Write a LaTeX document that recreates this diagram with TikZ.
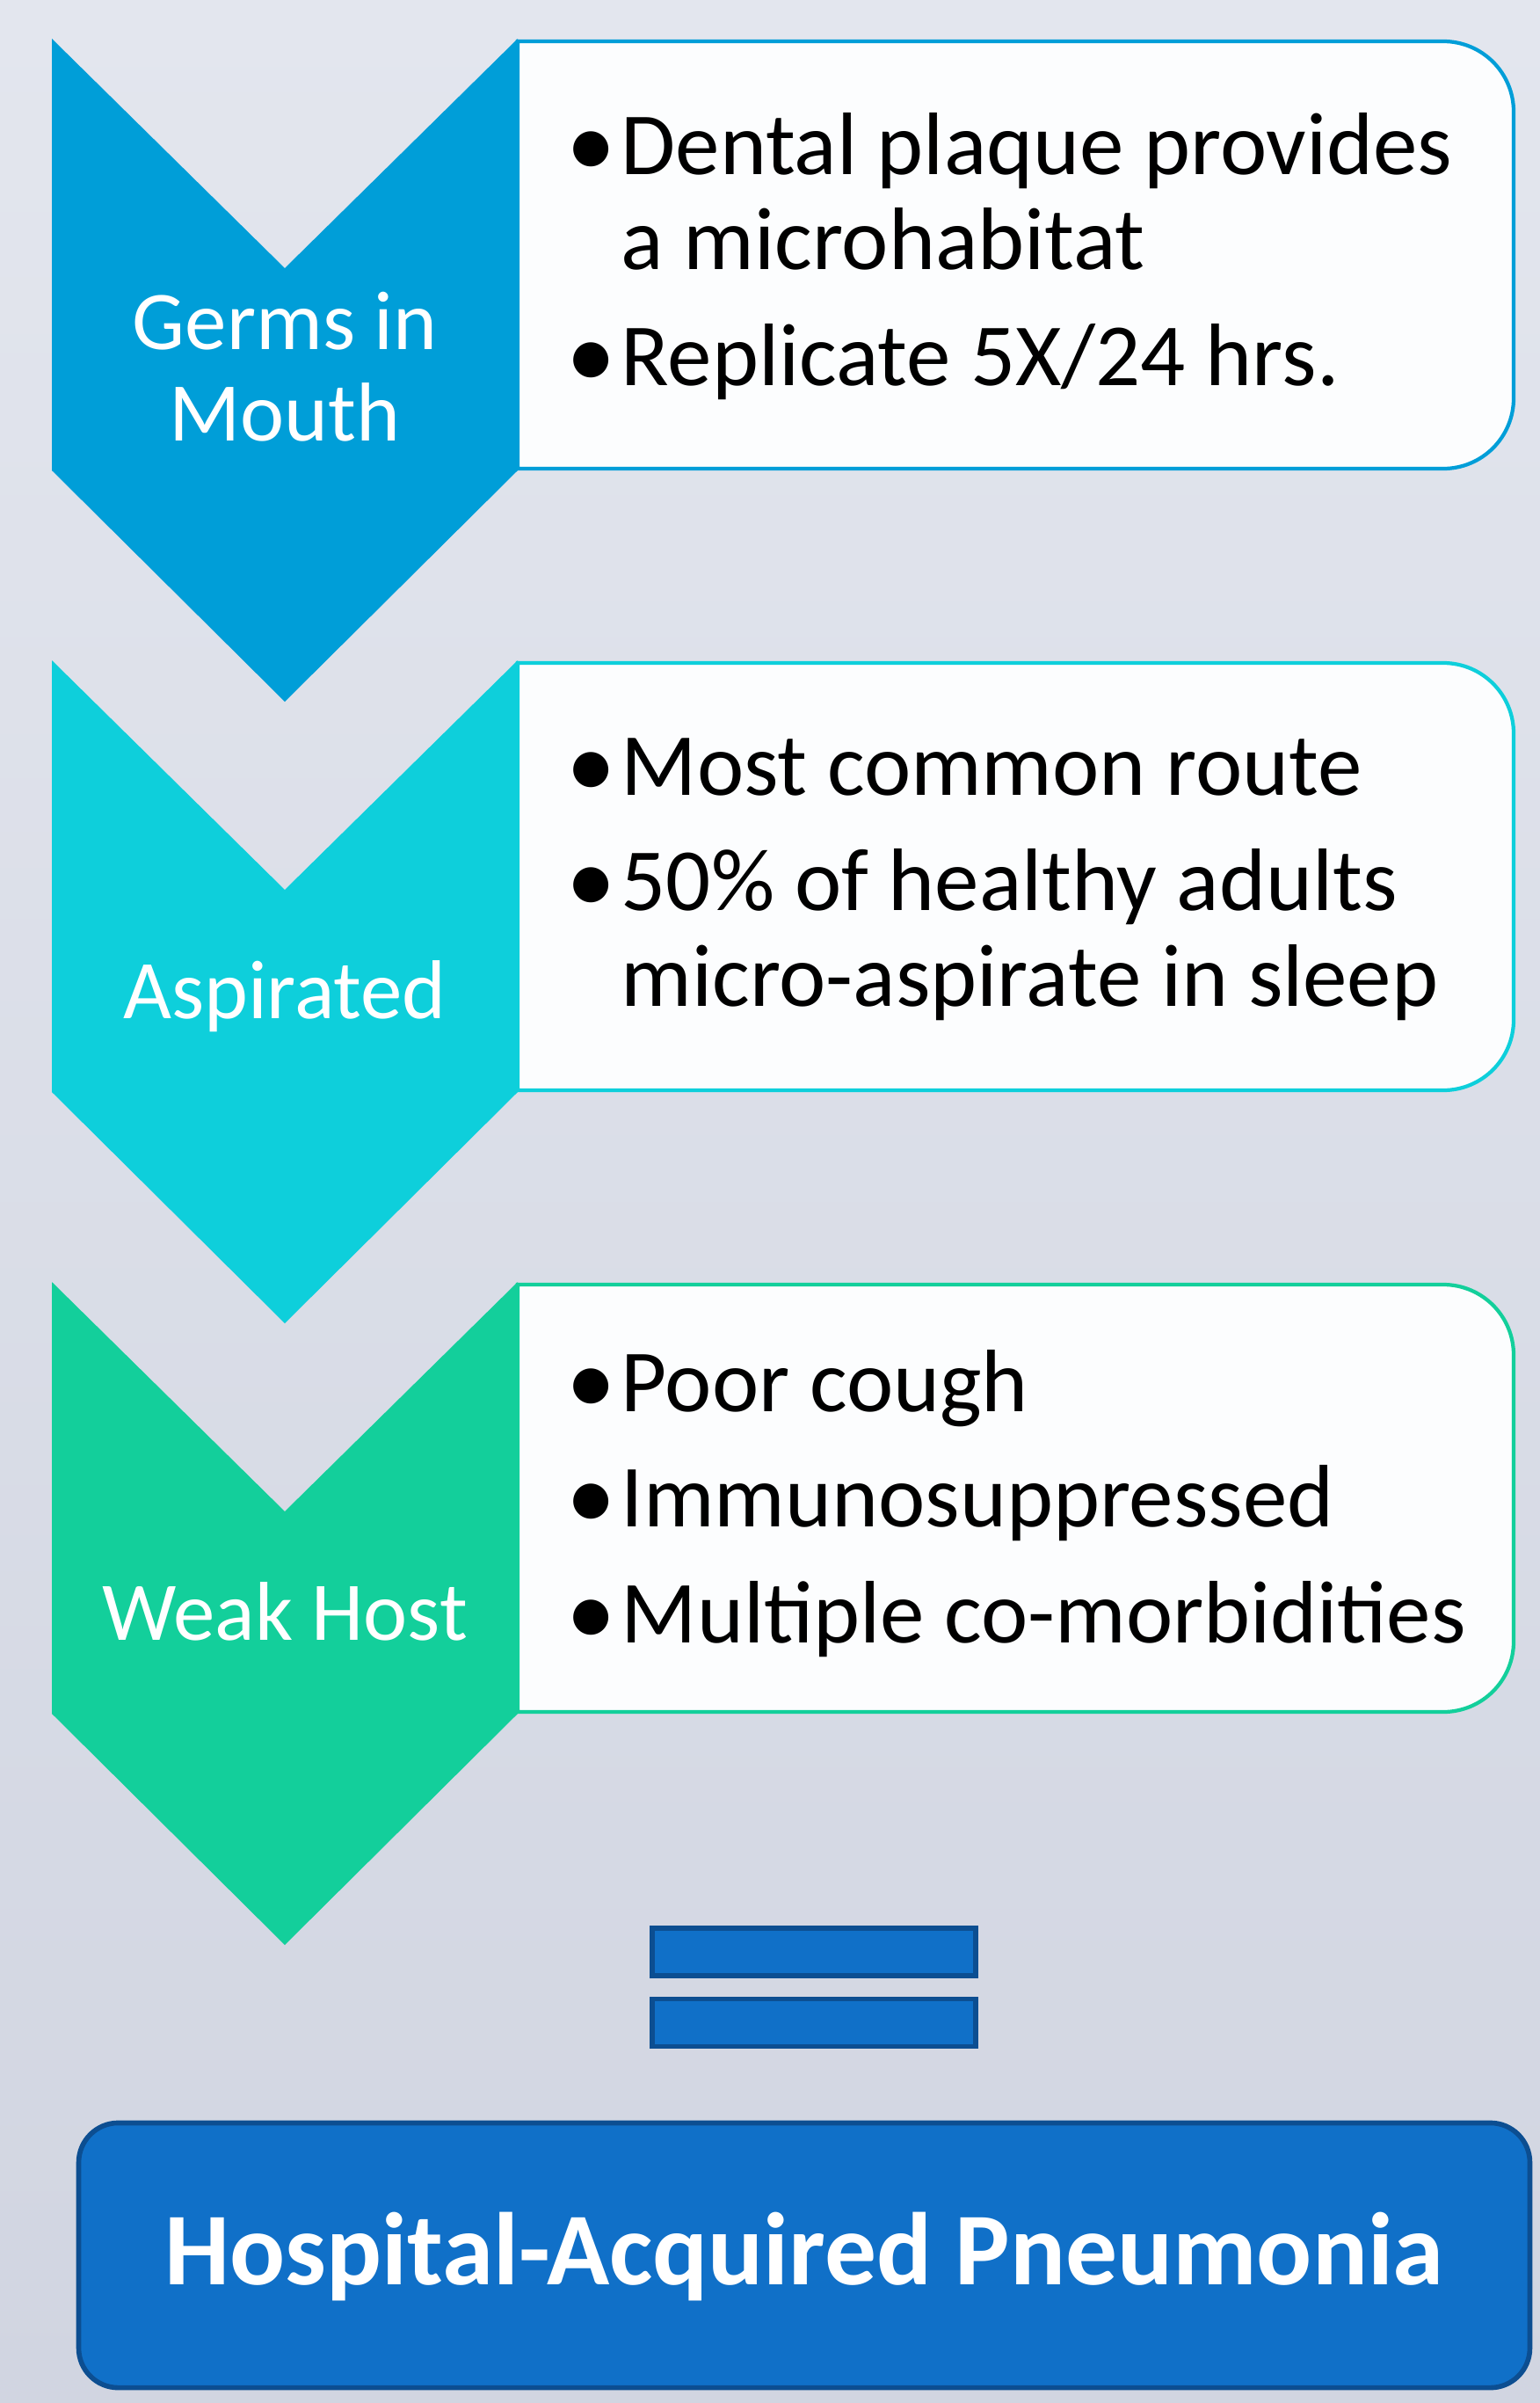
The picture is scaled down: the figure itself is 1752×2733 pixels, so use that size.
\documentclass[tikz,border=0pt]{standalone}
\usepackage{fontspec}
\setmainfont{Carlito}
\usepackage{array}
\usetikzlibrary{positioning}
\definecolor{bgtop}{RGB}{227,230,238}
\definecolor{bgbot}{RGB}{209,213,225}
\definecolor{germc}{RGB}{0,158,216}
\definecolor{aspc}{RGB}{14,207,219}
\definecolor{hostc}{RGB}{19,207,155}
\definecolor{cardw}{RGB}{252,253,254}
\definecolor{hapblue}{RGB}{16,112,200}
\definecolor{hapline}{RGB}{12,78,145}
\newcolumntype{B}{>{\raggedright\arraybackslash}p{9.75cm}}
\newcommand\bullist[1]{\begin{tabular}[t]{@{}p{6.2mm}@{}B@{}}#1\end{tabular}}
\newcommand\blt{\raisebox{-0.03em}{\scalebox{1.12}{\textbullet}}}
\newcommand\gap{\\\noalign{\vskip0.23cm}}
\tikzset{chev/.style={fill=#1,draw=none},tag/.style={text=white,font=\fontsize{27}{29.3}\selectfont,align=center,inner sep=0pt,anchor=base},card/.style={draw=#1,line width=1.2pt,fill=cardw},pts/.style={anchor=base west,inner sep=0pt,font=\fontsize{28.7}{30.9}\selectfont},bar/.style={draw=hapline,line width=1.5pt,fill=hapblue,minimum width=3.68cm,minimum height=0.54cm,inner sep=0pt},result/.style={draw=hapline,line width=1.6pt,fill=hapblue,rounded corners=4.5mm,minimum width=16.5cm,minimum height=3.01cm,text height=0.9cm,text depth=0.23cm,text=white,font=\fontsize{33.4}{38}\selectfont\bfseries}}
\begin{document}
\begin{tikzpicture}[x=0.01cm,y=-0.01cm]
\useasboundingbox (0,0) rectangle (1752,2733);
\shade[top color=bgtop,bottom color=bgbot] (0,0) rectangle (1752,2733);
% stage 1
\draw[card=germc] (1000,47) [rounded corners=8mm] -- (1722,47) -- (1722,533) -- (1000,533) [sharp corners] -- (589,533) -- (589,47) -- cycle;
\fill[chev=germc] (59,44) -- (324,305) -- (589,44) -- (589,535) -- (324,798) -- (59,535) -- cycle;
\node[tag] (germs) at (324,501) {Germs in\\Mouth};
\node[pts] (germpts) at (644,198) {\bullist{\blt & Dental plaque provides a microhabitat\gap \blt & Replicate 5X/24 hrs.}};
% stage 2
\draw[card=aspc] (1000,754) [rounded corners=8mm] -- (1722,754) -- (1722,1240) -- (1000,1240) [sharp corners] -- (589,1240) -- (589,754) -- cycle;
\fill[chev=aspc] (59,751) -- (324,1012) -- (589,751) -- (589,1242) -- (324,1505) -- (59,1242) -- cycle;
\node[tag] (asp) at (324,1158) {Aspirated};
\node[pts] (asppts) at (644,904) {\bullist{\blt & Most common route\gap \blt & 50\% of healthy adults micro-aspirate in sleep}};
% stage 3
\draw[card=hostc] (1000,1461) [rounded corners=8mm] -- (1722,1461) -- (1722,1947) -- (1000,1947) [sharp corners] -- (589,1947) -- (589,1461) -- cycle;
\fill[chev=hostc] (59,1458) -- (324,1719) -- (589,1458) -- (589,1949) -- (324,2212) -- (59,1949) -- cycle;
\node[tag] (host) at (324,1865) {Weak Host};
\node[pts] (hostpts) at (644,1605) {\bullist{\blt & Poor cough\gap \blt & Immunosuppressed\gap \blt & Multiple co-morbidities}};
% equals and result
\node[bar] (eqtop) at (926,2220) {};
\node[bar,below=0.21cm of eqtop] (eqbot) {};
\node[result] (hap) at (915,2565) {Hospital-Acquired Pneumonia};
\end{tikzpicture}
\end{document}
